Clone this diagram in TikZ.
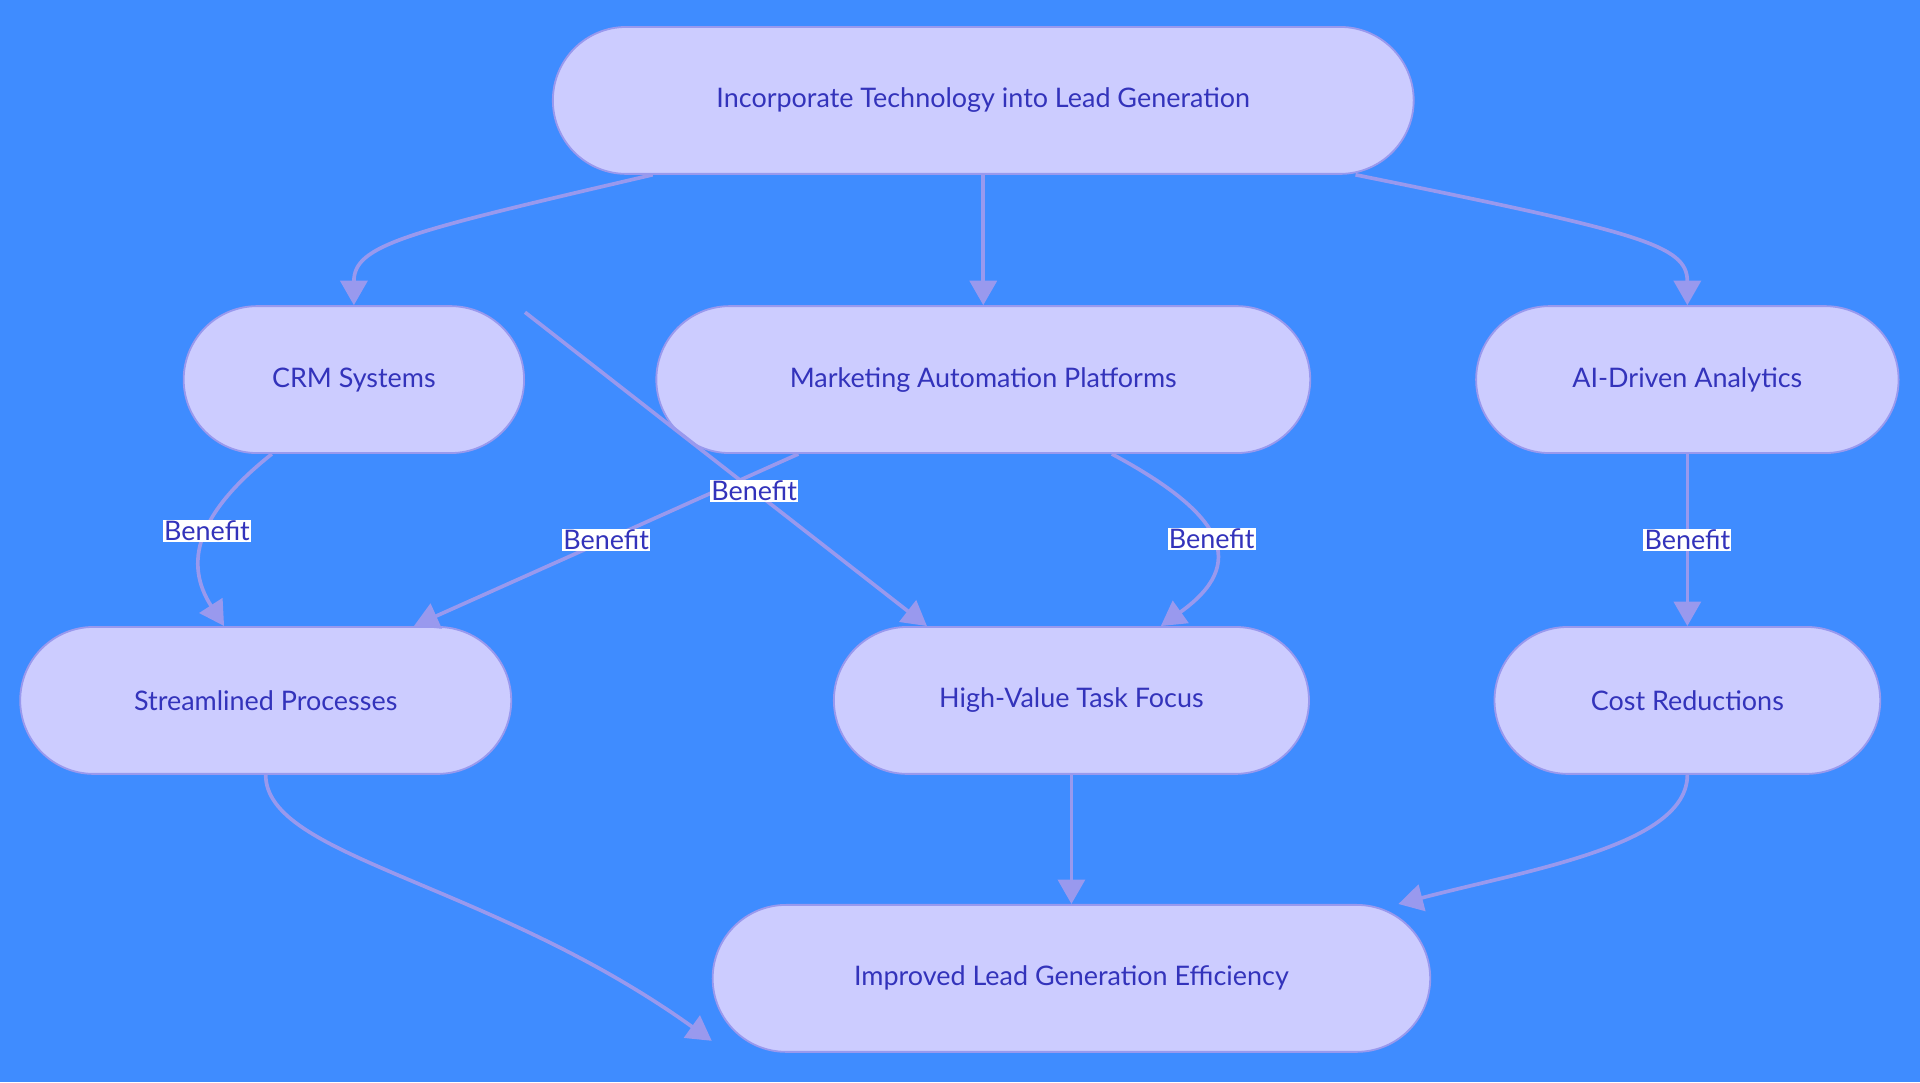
\documentclass[tikz,border=0pt]{standalone}
\usepackage{fontspec}
\setmainfont{Lato}
\usetikzlibrary{shapes.misc,arrows.meta,calc}
\definecolor{bg}{HTML}{3F8CFF}
\definecolor{nfill}{HTML}{CCCCFF}
\definecolor{nline}{HTML}{9999EE}
\definecolor{ntext}{HTML}{3333BB}
\begin{document}
\begin{tikzpicture}[x=1pt,y=-1pt,
 box/.style={rounded rectangle,draw=nline,line width=1.5pt,fill=nfill,text=ntext,minimum height=120pt,inner sep=0pt,font=\fontsize{22}{26}\selectfont},
 edge/.style={draw=nline,line width=3pt,-{Triangle[length=20pt,width=22pt]}},
 lab/.style={fill=white,text=ntext,inner sep=1pt,font=\fontsize{22}{26}\selectfont}]
\fill[bg] (0,0) rectangle (1568,884);
\useasboundingbox (0,0) rectangle (1568,884);
\node[box,minimum width=703pt] (top) at (803,82) {Incorporate Technology into Lead Generation};
\node[box,minimum width=278pt] (crm) at (289,310) {CRM Systems};
\node[box,minimum width=534pt] (map) at (803,310) {Marketing Automation Platforms};
\node[box,minimum width=345pt] (ai) at (1378,310) {AI-Driven Analytics};
\node[box,minimum width=401pt] (sp) at (217,572) {Streamlined Processes};
\node[box,minimum width=388pt] (hv) at (875,572) {High-Value Task Focus};
\node[box,minimum width=315pt] (cr) at (1378,572) {Cost Reductions};
\node[box,minimum width=586pt] (imp) at (875,799) {Improved Lead Generation Efficiency};

\draw[edge] ([xshift=-270pt]top.south) .. controls (330,190) and (289,200) .. (crm.north);
\draw[edge] (top.south) -- (map.north);
\draw[edge] ([xshift=304pt]top.south) .. controls (1340,190) and (1378,200) .. (ai.north);

\draw[edge] ([xshift=-67pt]crm.south) .. controls (160,420) and (150,460) .. node[lab,pos=0.45] {Benefit} ([xshift=-34pt]sp.north);
\draw[edge] ([xshift=-151pt]map.south) -- node[lab,pos=0.5] {Benefit} ([xshift=121pt]sp.north);
\draw[edge] ([yshift=55pt]crm.east) -- node[lab,pos=0.57] {Benefit} ([xshift=-118pt]hv.north);
\draw[edge] ([xshift=105pt]map.south) .. controls (1000,420) and (1020,460) .. node[lab,pos=0.5] {Benefit} ([xshift=73pt]hv.north);
\draw[edge] (ai.south) -- node[lab] {Benefit} (cr.north);

\draw[edge] (sp.south) .. controls (217,700) and (400,720) .. ([yshift=-51pt]imp.west);
\draw[edge] (hv.south) -- (imp.north);
\draw[edge] (cr.south) .. controls (1378,690) and (1250,710) .. ([xshift=267pt]imp.north);
\end{tikzpicture}
\end{document}
